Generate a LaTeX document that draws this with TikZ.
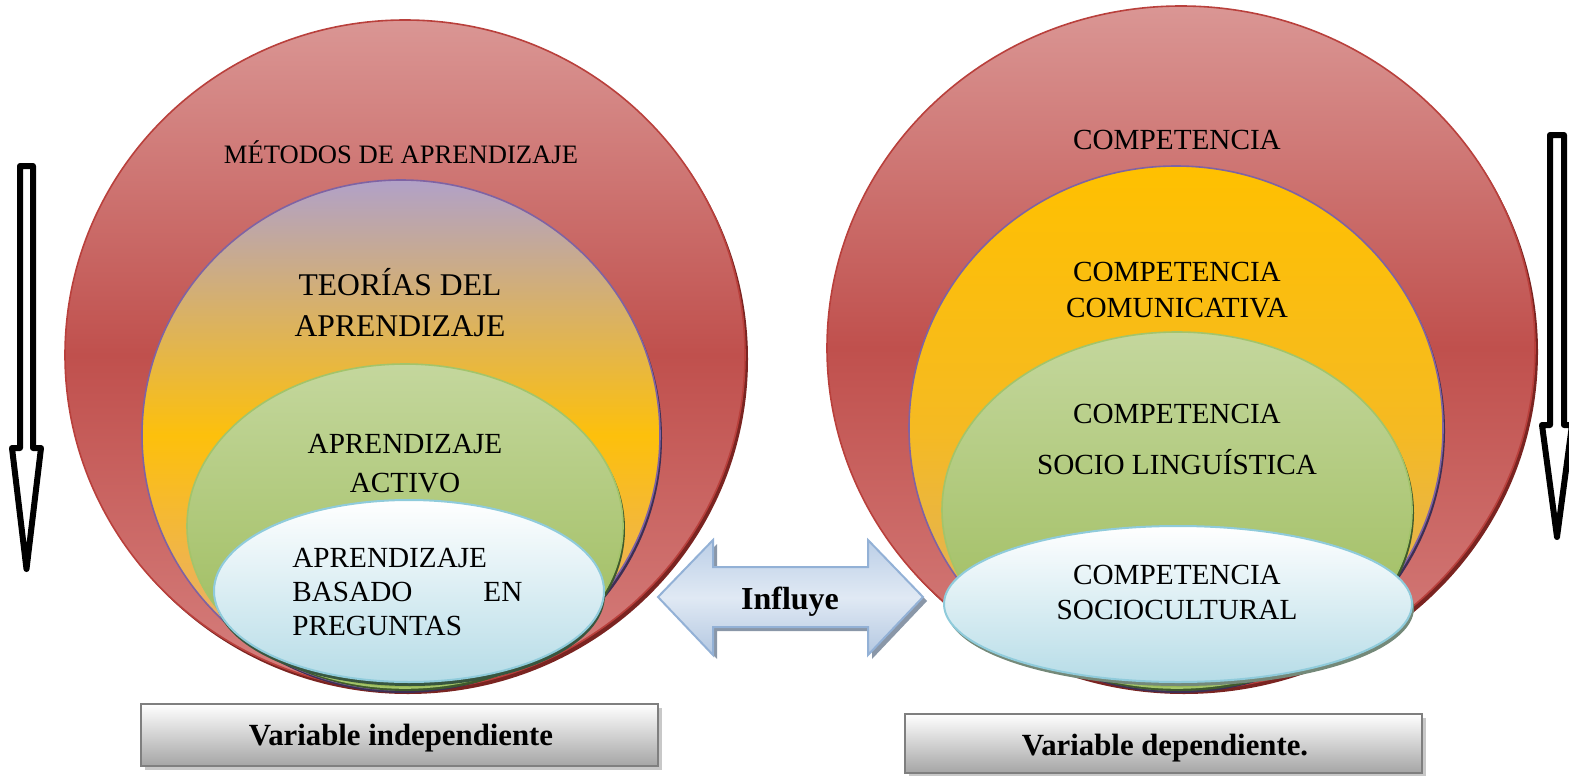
\documentclass[tikz,border=0pt]{standalone}
\usepackage{fontspec}
\setmainfont{Liberation Serif}
\definecolor{redT}{HTML}{DA9694}
\definecolor{redM}{HTML}{C0504D}
\definecolor{redB}{HTML}{D6807E}
\definecolor{redL}{HTML}{B9403C}
\definecolor{redS}{HTML}{7A2421}
\definecolor{purT}{HTML}{B1A1C8}
\definecolor{yelM}{HTML}{FDC00C}
\definecolor{salB}{HTML}{E2A98A}
\definecolor{purL}{HTML}{7F63A3}
\definecolor{purS}{HTML}{3D2F55}
\definecolor{orT}{HTML}{FFC000}
\definecolor{orM}{HTML}{F5BA22}
\definecolor{orB}{HTML}{D8AE74}
\definecolor{grT}{HTML}{C4D79D}
\definecolor{grB}{HTML}{99B955}
\definecolor{grL}{HTML}{A3C46A}
\definecolor{grS}{HTML}{3F5A2C}
\definecolor{blT}{HTML}{FFFFFF}
\definecolor{blB}{HTML}{B6DCE7}
\definecolor{blL}{HTML}{8FCBDB}
\definecolor{blS}{HTML}{38563F}
\definecolor{arT}{HTML}{BCCFE7}
\definecolor{arM}{HTML}{E0E9F4}
\definecolor{arB}{HTML}{B4C8E1}
\definecolor{arL}{HTML}{93B1D6}
\definecolor{arS}{HTML}{8A97A8}
\definecolor{bxB}{HTML}{A5A5A5}
\definecolor{bxL}{HTML}{7F7F7F}
\definecolor{bxS}{HTML}{C8C8C8}
\begin{document}
\begin{tikzpicture}[x=0.5pt,y=-0.5pt,
  bigshape/.style={top color=redT, bottom color=redB, middle color=redM, draw=redL, line width=0.8pt},
  purshape/.style={top color=purT, bottom color=salB, middle color=yelM, draw=purL, line width=0.8pt},
  orshape/.style={top color=orT, bottom color=orB, middle color=orM, draw=purL, line width=0.8pt},
  grshape/.style={top color=grT, bottom color=grB, draw=grL, line width=0.8pt},
  blshape/.style={top color=blT, bottom color=blB, draw=blL, line width=1pt},
  txt/.style={inner sep=0pt, anchor=base, font=\fontsize{14.6}{17}\selectfont},
  boldtxt/.style={inner sep=0pt, anchor=base, font=\fontsize{15.4}{18}\selectfont\bfseries},
  downarrow/.style={draw=black, line width=3pt, line join=round, fill=white},
  boxshape/.style={top color=white, bottom color=bxB, draw=bxL, line width=1.2pt},
  boxshadow/.style={fill=bxS}]
\useasboundingbox (0,0) rectangle (1569,776);

% ---------- left group ----------
\fill[redS] (408,359) ellipse [x radius=170pt, y radius=167.5pt];
\shade[bigshape] (405,355) ellipse [x radius=170pt, y radius=167.5pt];
\fill[purS] (403,438) ellipse [x radius=129.5pt, y radius=127.5pt];
\shade[purshape] (401,435) ellipse [x radius=129.5pt, y radius=127.5pt];
\fill[grS] (407,529) ellipse [x radius=109pt, y radius=81pt];
\shade[grshape] (405,526) ellipse [x radius=109pt, y radius=81pt];
\fill[blS] (410,595) ellipse [x radius=97.5pt, y radius=45.5pt];
\shade[blshape] (409,591) ellipse [x radius=97.5pt, y radius=45.5pt];

\node[txt, font=\fontsize{13.3}{16}\selectfont] (metodos) at (401,163) {MÉTODOS DE APRENDIZAJE};
\node[txt, font=\fontsize{15.8}{19}\selectfont] (teorias1) at (400,295) {TEORÍAS DEL};
\node[txt, font=\fontsize{15.8}{19}\selectfont] (teorias2) at (400,336) {APRENDIZAJE};
\node[txt] (activo1) at (405,453) {APRENDIZAJE};
\node[txt] (activo2) at (405,492) {ACTIVO};
\node[txt, anchor=base west] (abp1) at (292,567) {APRENDIZAJE};
\node[txt, anchor=base west, text width=115pt] (abp2) at (292,601) {BASADO\hfill EN};
\node[txt, anchor=base west] (abp3) at (292,635) {PREGUNTAS};

% ---------- right group ----------
\fill[redS] (1184,352) ellipse [x radius=177pt, y radius=171pt];
\shade[bigshape] (1181,348) ellipse [x radius=177pt, y radius=171pt];
\fill[purS] (1178,431) ellipse [x radius=133.5pt, y radius=131pt];
\shade[orshape] (1176,428) ellipse [x radius=133.5pt, y radius=131pt];
\fill[grS] (1179,513) ellipse [x radius=117.5pt, y radius=89pt];
\shade[grshape] (1177,510) ellipse [x radius=117.5pt, y radius=89pt];
\fill[blS!70!white] (1180,608) ellipse [x radius=117pt, y radius=39pt];
\shade[blshape] (1178,604) ellipse [x radius=117pt, y radius=39pt];

\node[txt] (comp0) at (1177,149) {COMPETENCIA};
\node[txt] (comp1a) at (1177,281) {COMPETENCIA};
\node[txt] (comp1b) at (1177,317) {COMUNICATIVA};
\node[txt] (comp2a) at (1177,423) {COMPETENCIA};
\node[txt] (comp2b) at (1177,474) {SOCIO LINGUÍSTICA};
\node[txt] (comp3a) at (1177,584) {COMPETENCIA};
\node[txt] (comp3b) at (1177,619) {SOCIOCULTURAL};

% ---------- Influye double arrow ----------
\fill[arS] (662,601) -- (717,544) -- (717,571) -- (872,571) -- (872,544) -- (927,601) -- (872,659) -- (872,631) -- (717,631) -- (717,659) -- cycle;
\shade[top color=arT, bottom color=arB, middle color=arM, draw=arL, line width=1pt]
  (658,597) -- (713,540) -- (713,567) -- (868,567) -- (868,540) -- (923,597) -- (868,655) -- (868,627) -- (713,627) -- (713,655) -- cycle;
\node[inner sep=0pt, anchor=base, font=\fontsize{16}{19}\selectfont\bfseries] (influye) at (790,609) {Influye};

% ---------- vertical arrows ----------
\path[downarrow] (20,166) -- (33,166) -- (33,448) -- (41,448) -- (26.5,569) -- (12,448) -- (20,448) -- cycle;
\path[downarrow] (1550,135) -- (1564,135) -- (1564,425) -- (1572,425) -- (1557,537) -- (1542,425) -- (1550,425) -- cycle;

% ---------- bottom boxes ----------
\fill[boxshadow] (145,708) rectangle (662,770);
\shade[boxshape] (141,704) rectangle (658,766);
\node[boldtxt] (vind) at (401,745) {Variable independiente};
\fill[boxshadow] (909,718) rectangle (1426,777);
\shade[boxshape] (905,714) rectangle (1422,773);
\node[boldtxt] (vdep) at (1165,755) {Variable dependiente.};
\end{tikzpicture}
\end{document}
